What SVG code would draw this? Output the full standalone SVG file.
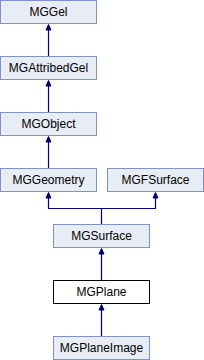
<svg xmlns="http://www.w3.org/2000/svg" width="204" height="360" viewBox="0 0 204 360">
<defs>
<style>
.n rect{fill:#e8ecf5;stroke:#7b93c9;stroke-width:1}
.cur rect{fill:#ffffff;stroke:#000000;stroke-width:1}
text{font-family:"Liberation Sans",Arial,sans-serif;font-size:12px;fill:#000;text-anchor:middle}
.e path{fill:none;stroke:#000080;stroke-width:1.2}
.e polygon{fill:#000080;stroke:#000080;stroke-width:1}
</style>
</defs>
<g class="e" id="connectors">
<path d="M48.5 56.5V29"/><polygon points="48.5,24.5 46,30 51,30"/>
<path d="M48.5 112.5V85"/><polygon points="48.5,80.5 46,86 51,86"/>
<path d="M48.5 168.5V141"/><polygon points="48.5,136.5 46,142 51,142"/>
<path d="M101.5 224.5V208.5H48.5V197"/><polygon points="48.5,192.5 46,198 51,198"/>
<path d="M101.5 208.5H155.5V197"/><polygon points="155.5,192.5 153,198 158,198"/>
<path d="M101.5 280.5V253"/><polygon points="101.5,248.5 99,254 104,254"/>
<path d="M101.5 336.5V309"/><polygon points="101.5,304.5 99,310 104,310"/>
</g>
<g class="n" id="MGGel"><rect x="0.5" y="0.5" width="96" height="23"/><text x="48.5" y="15.5">MGGel</text></g>
<g class="n" id="MGAttribedGel"><rect x="0.5" y="56.5" width="96" height="23"/><text x="48.5" y="71.5">MGAttribedGel</text></g>
<g class="n" id="MGObject"><rect x="0.5" y="112.5" width="96" height="23"/><text x="48.5" y="127.5">MGObject</text></g>
<g class="n" id="MGGeometry"><rect x="0.5" y="168.5" width="96" height="23"/><text x="48.5" y="183.5">MGGeometry</text></g>
<g class="n" id="MGFSurface"><rect x="107.5" y="168.5" width="96" height="23"/><text x="155.5" y="183.5">MGFSurface</text></g>
<g class="n" id="MGSurface"><rect x="53.5" y="224.5" width="96" height="23"/><text x="101.5" y="239.5">MGSurface</text></g>
<g class="cur" id="MGPlane"><rect x="53.5" y="280.5" width="96" height="23"/><text x="101.5" y="295.5">MGPlane</text></g>
<g class="n" id="MGPlaneImage"><rect x="53.5" y="336.5" width="96" height="23"/><text x="101.5" y="351.5">MGPlaneImage</text></g>
</svg>
